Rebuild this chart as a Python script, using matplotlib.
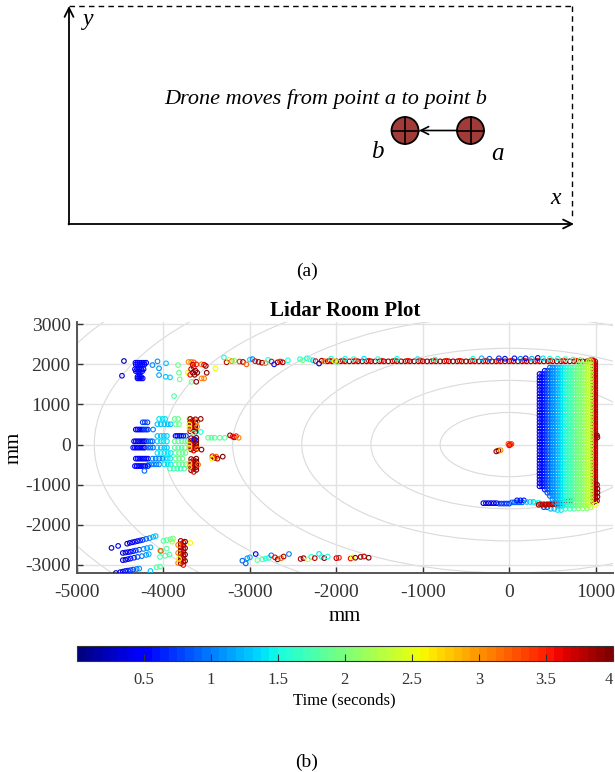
import numpy as np
import matplotlib.pyplot as plt
from matplotlib.patches import Circle
from matplotlib.colors import Normalize
import matplotlib.cm as cm

plt.rcParams['font.family'] = ['Liberation Serif', 'DejaVu Serif']
plt.rcParams['axes.unicode_minus'] = False

# ---------------- data (mm, time in s) ----------------
# top wall, main red line
wall_top_x = [-2100, -2050, -2000, -1950, -1900, -1850, -1800, -1750, -1700, -1650,
              -1600, -1550, -1500, -1450, -1400, -1350, -1300, -1250, -1200, -1150,
              -1100, -1050, -1000, -950, -900, -850, -800, -750, -700, -650, -600,
              -550, -500, -450, -400, -350, -300, -250, -200, -150, -100, -50, 0, 50,
              100, 150, 200, 250, 300, 350, 400, 450, 500, 550, 600, 650, 700, 750,
              800, 850, 900, 950]
wall_top_y = 2075
wall_top_t = 3.9
wall_top_red_x = [-2075, -1925, -1775, -1625, -1475, -1325, -1175, -1025, -875, -725,
                  -575, -425, -275, -125, 25, 175, 325, 475, 625, 775, 925]
wall_top_red_y = 2090
wall_top_red_t = 3.55

# right wall
wall_right_y = [2100, 2040, 1980, 1920, 1860, 1800, 1740, 1680, 1620, 1560, 1500, 1440,
                1380, 1320, 1260, 1200, 1140, 1080, 1020, 960, 900, 840, 780, 720, 660,
                600, 540, 480, 420, 360, 300, 240, 180, 120, 60, 0, -60, -120, -180, -240,
                -300, -360, -420, -480, -540, -600, -660, -720, -780, -840, -900, -960,
                -1020, -1080, -1140, -1200, -1260, -1320, -1380, -1440]
wall_right_x = 970
wall_right_x2 = 995

# coloured points on/above the top wall (x, y, t)
top_points = [(-3300, 2170, 1.5), (-3270, 2050, 3.7), (-3240, 2110, 2.5), (-3210, 2080, 3.1),
              (-3180, 2090, 2.0), (-3120, 2070, 3.4), (-3080, 2060, 3.9), (-3040, 2000, 3.2),
              (-3000, 2120, 1.4), (-2970, 2130, 1.0), (-2940, 2080, 3.6), (-2900, 2060, 3.9),
              (-2860, 2040, 3.9), (-2820, 2030, 3.1), (-2790, 2110, 1.5), (-2750, 2070, 3.6),
              (-2720, 2000, 0.6), (-2680, 2050, 3.9), (-2650, 2070, 3.5), (-2620, 2050, 3.9),
              (-2560, 2100, 1.6), (-2420, 2130, 1.5), (-2390, 2100, 2.0), (-2340, 2150, 1.5),
              (-2310, 2120, 1.9), (-2270, 2100, 1.4), (-2240, 2080, 3.6), (-2200, 2020, 0.3),
              (-2170, 2090, 3.9), (-2140, 2080, 3.2), (-2060, 2140, 1.5), (-2020, 2080, 2.6),
              (-1990, 2060, 1.9), (-1900, 2140, 1.5), (-1800, 2130, 1.6), (-1680, 2140, 1.4),
              (-1520, 2130, 1.6), (-1300, 2140, 1.5), (-1060, 2130, 1.4), (-860, 2120, 1.7),
              (-420, 2140, 1.5), (-320, 2150, 1.2), (-230, 2140, 0.9), (-120, 2150, 0.7),
              (-50, 2140, 0.4), (60, 2150, 0.6), (130, 2140, 1.0), (190, 2150, 0.5),
              (260, 2140, 1.2), (330, 2160, 0.5), (390, 2150, 1.4), (470, 2140, 1.5),
              (560, 2140, 1.6), (650, 2130, 1.7), (740, 2120, 1.8), (820, 2110, 2.0)]

# upper left corner
upper_left_points = [(-4457, 2083, 0.15), (-4480, 1716, 0.45),
                     (-4069, 2074, 1.1), (-3970, 2025, 1.25), (-4127, 1982, 1.0),
                     (-4051, 1900, 1.1), (-4051, 1732, 1.15), (-3974, 1690, 1.3),
                     (-3924, 1675, 1.35), (-3831, 1982, 1.9), (-3820, 1790, 1.9),
                     (-3812, 1625, 1.95), (-3676, 1565, 1.95), (-3877, 1207, 1.8),
                     (-3716, 1790, 2.6), (-3400, 1900, 2.5),
                     (-3710, 2060, 3.0), (-3680, 2060, 3.1), (-3650, 2050, 3.3),
                     (-3650, 1925, 3.6), (-3680, 1880, 3.8), (-3630, 1840, 3.9),
                     (-3660, 1790, 4.0), (-3610, 1790, 3.9), (-3690, 1740, 3.6),
                     (-3640, 1740, 3.9), (-3620, 1565, 3.9), (-3660, 1990, 3.8),
                     (-3620, 2000, 3.5), (-3560, 2000, 3.0), (-3530, 1990, 3.6),
                     (-3510, 1960, 3.9), (-3500, 1790, 3.9), (-3530, 1650, 3.1),
                     (-3560, 1650, 3.1)]
upper_left_rows = [(2040, [-4324, -4300, -4275, -4250, -4225, -4200], 0.45),
                   (1995, [-4320, -4295, -4270, -4245, -4220], 0.55),
                   (1880, [-4330, -4305, -4280, -4255, -4230], 0.45),
                   (1830, [-4320, -4295, -4270, -4245], 0.55),
                   (1690, [-4300, -4280, -4260], 0.5),
                   (1650, [-4300, -4280, -4260, -4240], 0.45)]

# middle left cluster, horizontal runs (y, xs, t)
mid_left_rows = [(640, [-4050, -4010, -3980], 1.4), (640, [-3870, -3830], 1.9),
                 (640, [-3700], 2.3), (555, [-4240, -4215, -4185], 0.8),
                 (508, [-4070, -4030, -3990, -3950, -3916], 1.3), (508, [-3858, -3820], 1.9),
                 (375, [-4320, -4300, -4280, -4260, -4240], 0.45),
                 (375, [-4220, -4200, -4180], 0.7), (375, [-4120], 1.0),
                 (315, [-3569], 1.5),
                 (215, [-4070, -4030, -3995, -3960], 1.3),
                 (215, [-3860, -3840, -3815, -3795, -3770], 0.5), (215, [-3740], 0.7),
                 (82, [-4340, -4320, -4300, -4280, -4260, -4240, -4220, -4200], 0.4),
                 (82, [-4180, -4150, -4127], 0.9), (82, [-4070, -4030, -4000, -3960], 1.4),
                 (82, [-3870, -3830, -3790, -3750, -3720], 1.9),
                 (-75, [-4350, -4330, -4310, -4290, -4270, -4250, -4230, -4215], 0.45),
                 (-75, [-4180, -4150, -4120], 0.9), (-75, [-4070, -4030, -3990, -3960], 1.3),
                 (-75, [-3870, -3830, -3790, -3750], 1.8),
                 (-210, [-4070, -4030, -3990, -3950, -3916], 1.4),
                 (-210, [-3860, -3820, -3780, -3745], 1.9),
                 (-350, [-4320, -4300, -4280, -4260, -4240, -4220, -4200, -4178], 0.5),
                 (-350, [-4127, -4090, -4050, -4012], 1.0), (-350, [-3980, -3950, -3920], 1.4),
                 (-350, [-3860, -3820, -3780], 1.9),
                 (-493, [-4170, -4140, -4110, -4080, -4050], 1.0),
                 (-493, [-3990, -3950, -3916], 1.4), (-493, [-3860, -3820, -3780, -3740], 1.9),
                 (-535, [-4330, -4310, -4290, -4270, -4250, -4230, -4210, -4180], 0.5),
                 (-600, [-3924, -3880, -3840, -3800, -3760], 1.7),
                 (-655, [-4220], 0.9),
                 (170, [-3484, -3445, -3407, -3349, -3291], 1.85)]
# middle left, vertical runs (x, ys, t)
mid_left_cols = [(-3690, [640, 560, 480, 400, 330], 3.9), (-3660, [600, 520, 440, 360], 3.6),
                 (-3630, [630, 550, 470, 390, 320], 4.0), (-3700, [500, 420], 2.6),
                 (-3610, [580, 450], 3.1),
                 (-3680, [160, 90, 20, -50, -120], 3.9), (-3650, [130, 50, -20, -90, -150], 3.6),
                 (-3620, [170, 100, 30, -40, -110], 4.0), (-3700, [0, -80], 2.7),
                 (-3640, [130], 0.5), (-3610, [-100], 3.2),
                 (-3680, [-360, -430, -500, -570, -640], 3.9),
                 (-3650, [-380, -450, -520, -600, -680], 3.6),
                 (-3620, [-350, -420, -490, -560, -630], 4.0),
                 (-3700, [-470, -560], 2.7), (-3600, [-500], 3.2),
                 (-3569, [640], 3.9), (-3560, [-125], 3.9), (-3650, [290], 1.9)]
mid_left_points = [(-3230, 230, 3.9), (-3200, 200, 3.6), (-3180, 180, 3.8), (-3160, 210, 3.5),
                   (-3130, 170, 3.1), (-3434, -290, 3.5), (-3410, -330, 3.9),
                   (-3390, -300, 3.2), (-3376, -350, 3.8), (-3314, -300, 4.0),
                   (-3440, -350, 2.6)]

# lower left corner
lower_left_points = [(-4420, -2470, 0.3), (-4390, -2450, 0.35), (-4360, -2435, 0.4),
                     (-4330, -2420, 0.45), (-4300, -2405, 0.5), (-4270, -2390, 0.6),
                     (-4240, -2375, 0.7), (-4200, -2350, 0.9), (-4160, -2330, 1.0),
                     (-4120, -2300, 1.2), (-4090, -2280, 1.3),
                     (-4000, -2400, 1.8), (-3960, -2380, 1.85), (-3920, -2360, 1.9),
                     (-3890, -2340, 1.95),
                     (-4470, -2700, 0.3), (-4440, -2690, 0.35), (-4410, -2680, 0.4),
                     (-4380, -2670, 0.5), (-4350, -2655, 0.6), (-4320, -2640, 0.7),
                     (-4280, -2620, 0.8), (-4230, -2600, 1.0), (-4190, -2580, 1.1),
                     (-4150, -2560, 1.2), (-4040, -2640, 1.8), (-3962, -2590, 1.85),
                     (-4470, -2880, 0.3), (-4440, -2870, 0.35), (-4410, -2855, 0.45),
                     (-4380, -2840, 0.55), (-4340, -2820, 0.65), (-4300, -2800, 0.8),
                     (-4250, -2780, 0.95), (-4200, -2750, 1.1), (-4170, -2730, 1.2),
                     (-4040, -2800, 1.7), (-3980, -2770, 1.75), (-3930, -2740, 1.8),
                     (-4550, -3200, 0.2), (-4500, -3180, 0.3), (-4470, -3165, 0.4),
                     (-4440, -3150, 0.5), (-4410, -3140, 0.6), (-4380, -3130, 0.7),
                     (-4350, -3115, 0.8), (-4310, -3100, 0.95), (-4280, -3090, 1.1),
                     (-4150, -3150, 1.3), (-4080, -3060, 1.8), (-4040, -3040, 1.85),
                     (-4601, -2575, 0.3), (-4524, -2525, 0.4), (-4030, -2650, 3.3),
                     (-3900, -2420, 2.2), (-3690, -2450, 2.6)]
lower_left_cols = [(-3800, [-2400, -2480, -2560, -2640, -2720, -2800, -2880, -2960], 3.9),
                   (-3770, [-2440, -2520, -2600, -2680, -2760, -2840, -2920, -3000], 3.6),
                   (-3750, [-2420, -2580, -2740, -2900], 4.0),
                   (-3830, [-2500, -2700, -2950], 3.1), (-3820, [-2850], 2.6)]

# lower middle
lower_mid_points = [(-3087, -2893, 0.9), (-3048, -2960, 0.9), (-3030, -2833, 1.1),
                    (-3000, -2810, 1.2), (-2933, -2727, 0.5), (-2914, -2877, 1.9),
                    (-2856, -2860, 1.8), (-2818, -2840, 1.6), (-2780, -2820, 1.5),
                    (-2753, -2760, 1.0), (-2710, -2810, 3.6), (-2680, -2860, 3.9),
                    (-2640, -2830, 3.2), (-2610, -2790, 3.8), (-2548, -2727, 1.0),
                    (-2413, -2850, 3.8), (-2380, -2830, 3.9), (-2330, -2860, 2.4),
                    (-2290, -2800, 1.5), (-2250, -2830, 3.7), (-2200, -2725, 1.4),
                    (-2170, -2800, 1.6), (-2140, -2830, 3.9), (-2100, -2790, 1.5),
                    (-2000, -2830, 3.8), (-1970, -2820, 3.5), (-1835, -2840, 3.6),
                    (-1810, -2810, 2.5), (-1780, -2820, 3.9), (-1720, -2800, 3.9),
                    (-1680, -2790, 3.7), (-1626, -2820, 3.9)]

# near the drone start position
origin_points = [(-10, 20, 3.3), (10, 0, 3.5), (25, 15, 3.4), (0, -20, 3.6),
                 (-150, -170, 3.9), (-125, -150, 3.95), (-100, -140, 3.0)]

# bottom wall, horizontal runs (y, xs, t)
bottom_rows = [(-1460, [-300, -270, -240, -210, -180, -150], 0.35),
               (-1470, [-120, -90, -60, -30, 0], 0.7),
               (-1440, [30, 60, 90, 120, 150], 0.9),
               (-1390, [90, 130, 170], 0.6),
               (-1430, [200, 240, 280], 1.3),
               (-1450, [300, 340], 1.5),
               (-1560, [400, 440], 0.8),
               (-1600, [480, 520], 1.2),
               (-1630, [560, 600], 1.4),
               (-1600, [650, 700, 750], 1.7),
               (-1590, [800, 850, 900], 2.0),
               (-1560, [940], 2.3)]
red_arc_x = [340, 380, 420, 460, 500, 540, 580, 620, 660, 700]
red_arc_y = [-1500, -1500, -1500, -1495, -1490, -1480, -1470, -1455, -1430, -1400]
red_arc_t = 3.9

# right block: scan columns
block_x = [350, 380, 410, 440, 470, 500, 530, 560, 590, 620, 650, 680, 710, 740, 770,
           800, 830, 860, 890, 920, 945]
block_t = [0.4, 0.5, 0.6, 0.75, 0.9, 1.0, 1.1, 1.2, 1.3, 1.4, 1.5, 1.6, 1.7, 1.8, 1.9,
           1.95, 2.0, 2.1, 2.2, 2.3, 2.35]
block_top = [1800, 1820, 1850, 1900, 1930, 1940, 1950, 1950, 1960, 1960, 1960, 1950,
             1950, 1960, 1980, 2000, 2020, 2040, 2060, 2080, 2090]
block_bottom = [-1100, -1100, -1150, -1250, -1350, -1400, -1450, -1550, -1560, -1560,
                -1560, -1560, -1560, -1560, -1560, -1560, -1560, -1560, -1560, -1520, -1500]
block_rows = [2080, 2000, 1920, 1840, 1760, 1680, 1600, 1520, 1440, 1360, 1280, 1200,
              1120, 1040, 960, 880, 800, 720, 640, 560, 480, 400, 320, 240, 160, 80, 0,
              -80, -160, -240, -320, -400, -480, -560, -640, -720, -800, -880, -960,
              -1040, -1120, -1200, -1280, -1360, -1440, -1520, -1600]

right_extra = [(1015, 230, 3.9), (1020, 180, 3.9), (1015, -1000, 3.9), (1020, -1100, 3.9),
               (1020, -1200, 3.9), (1020, -1300, 3.9), (1015, -1400, 3.9),
               (940, 2100, 3.9), (960, 2090, 3.6), (1000, -1500, 2.5)]

circle_radii = [800, 1600, 2400, 3200, 4000, 4800, 5600]
x_ticks = [-5000, -4000, -3000, -2000, -1000, 0, 1000]
y_ticks = [-3000, -2000, -1000, 0, 1000, 2000, 3000]
cb_ticks = [0.5, 1, 1.5, 2, 2.5, 3, 3.5, 4]
cb_labels = ['0.5', '1', '1.5', '2', '2.5', '3', '3.5', '4']

# ---------------- collect points ----------------
px, py, pt = [], [], []


def add_point(x, y, t):
    px.append(x)
    py.append(y)
    pt.append(t)


for x in wall_top_x:
    add_point(x, wall_top_y, wall_top_t)
for x in wall_top_red_x:
    add_point(x, wall_top_red_y, wall_top_red_t)
for y in wall_right_y:
    add_point(wall_right_x, y, 3.9)
for y in wall_right_y[1:]:
    add_point(wall_right_x2, y + 30, 3.7)
for group in [top_points, upper_left_points, mid_left_points, lower_left_points,
              lower_mid_points, origin_points, right_extra]:
    for x, y, t in group:
        add_point(x, y, t)
for group in [upper_left_rows, mid_left_rows, bottom_rows]:
    for y, xs, t in group:
        for x in xs:
            add_point(x, y, t)
for group in [mid_left_cols, lower_left_cols]:
    for x, ys, t in group:
        for y in ys:
            add_point(x, y, t)
for x, y in zip(red_arc_x, red_arc_y):
    add_point(x, y, red_arc_t)
    add_point(x + 20, y + 15, 3.6)
for x, t, top, bot in zip(block_x, block_t, block_top, block_bottom):
    for y in block_rows:
        if bot <= y <= top:
            add_point(x, y, t)

cmap = plt.get_cmap('jet', 64)
norm = Normalize(vmin=0, vmax=4)

# ---------------- figure ----------------
fig = plt.figure(figsize=(6.15, 7.72), dpi=100)

# (a) sketch, drawn in pixel coordinates
ax0 = fig.add_axes([0, 0, 1, 1])
ax0.set_xlim(0, 615)
ax0.set_ylim(772, 0)
ax0.axis('off')
ax0.annotate('', xy=(69, 6), xytext=(69, 224.5),
             arrowprops=dict(arrowstyle='->', lw=1.3, color='black', mutation_scale=16,
                             shrinkA=0, shrinkB=0))
ax0.annotate('', xy=(574, 224), xytext=(68.5, 224),
             arrowprops=dict(arrowstyle='->', lw=1.3, color='black', mutation_scale=16,
                             shrinkA=0, shrinkB=0))
ax0.plot([69, 572], [6, 6], color='black', lw=1.0, ls=(0, (4, 3)))
ax0.plot([572, 572], [6, 220], color='black', lw=1.0, ls=(0, (4, 3)))
for cx in [405, 470.5]:
    ax0.add_patch(Circle((cx, 130.5), 13.5, facecolor='#a03b38', edgecolor='black', lw=1.3))
    ax0.plot([cx - 13.5, cx + 13.5], [130.5, 130.5], color='black', lw=1.2)
    ax0.plot([cx, cx], [117, 144], color='black', lw=1.2)
ax0.annotate('', xy=(419, 130.5), xytext=(457, 130.5),
             arrowprops=dict(arrowstyle='->', lw=1.2, color='black', mutation_scale=14,
                             shrinkA=0, shrinkB=0))
ax0.text(326, 99, 'Drone moves from point a to point b', style='italic', fontsize=16,
         ha='center', va='center')
ax0.text(88, 20, 'y', style='italic', fontsize=17, ha='center', va='center')
ax0.text(556, 199, 'x', style='italic', fontsize=17, ha='center', va='center')
ax0.text(377, 152, 'b', style='italic', fontsize=18, ha='center', va='center')
ax0.text(497, 154, 'a', style='italic', fontsize=18, ha='center', va='center')
ax0.text(307, 271, '(a)', fontsize=14, ha='center', va='center')
ax0.text(307, 762, '(b)', fontsize=14, ha='center', va='center')

# (b) lidar plot
ax = fig.add_axes([77 / 615, 1 - 573 / 772, 536 / 615, 251 / 772])
ax.set_xlim(-5000, 1200)
ax.set_ylim(-3200, 3055)
for r in circle_radii:
    ax.add_patch(Circle((0, 0), r, fill=False, edgecolor='#dadada', lw=0.8, zorder=0.5))
ax.grid(True, color='#e2e2e2', lw=1.0)
ax.set_axisbelow(True)

colors = cmap(norm(np.array(pt)))
ax.scatter(px, py, s=11, marker='o', facecolors='none', edgecolors=colors,
           linewidths=0.8, zorder=3)

ax.set_xticks(x_ticks)
ax.set_xticklabels([str(v) for v in x_ticks])
ax.set_yticks(y_ticks)
ax.set_yticklabels([str(v) for v in y_ticks])
ax.tick_params(direction='in', length=4, labelsize=14, colors='#333333', width=1.0)
ax.tick_params(axis='x', pad=8)
ax.tick_params(axis='y', pad=4.5)
for side in ['top', 'right']:
    ax.spines[side].set_visible(False)
for side in ['left', 'bottom']:
    ax.spines[side].set_color('#555555')
    ax.spines[side].set_linewidth(1.4)
ax.set_xlabel('mm', fontsize=15, labelpad=4)
ax.set_ylabel('mm', fontsize=15, labelpad=1)
ax.set_title('Lidar Room Plot', fontsize=15, fontweight='bold', pad=4)

# colorbar
cax = fig.add_axes([76.5 / 615, 1 - 661 / 772, 536.5 / 615, 15 / 772])
sm = cm.ScalarMappable(norm=norm, cmap=cmap)
cb = fig.colorbar(sm, cax=cax, orientation='horizontal')
cb.set_ticks(cb_ticks)
cb.set_ticklabels(cb_labels)
cax.tick_params(direction='in', length=5, labelsize=12, colors='#333333', pad=8)
cax.get_xticklabels()[-1].set_horizontalalignment('right')
cb.outline.set_edgecolor('#333333')
cb.set_label('Time (seconds)', fontsize=12, labelpad=3)

fig.savefig('out.png', dpi=100)
